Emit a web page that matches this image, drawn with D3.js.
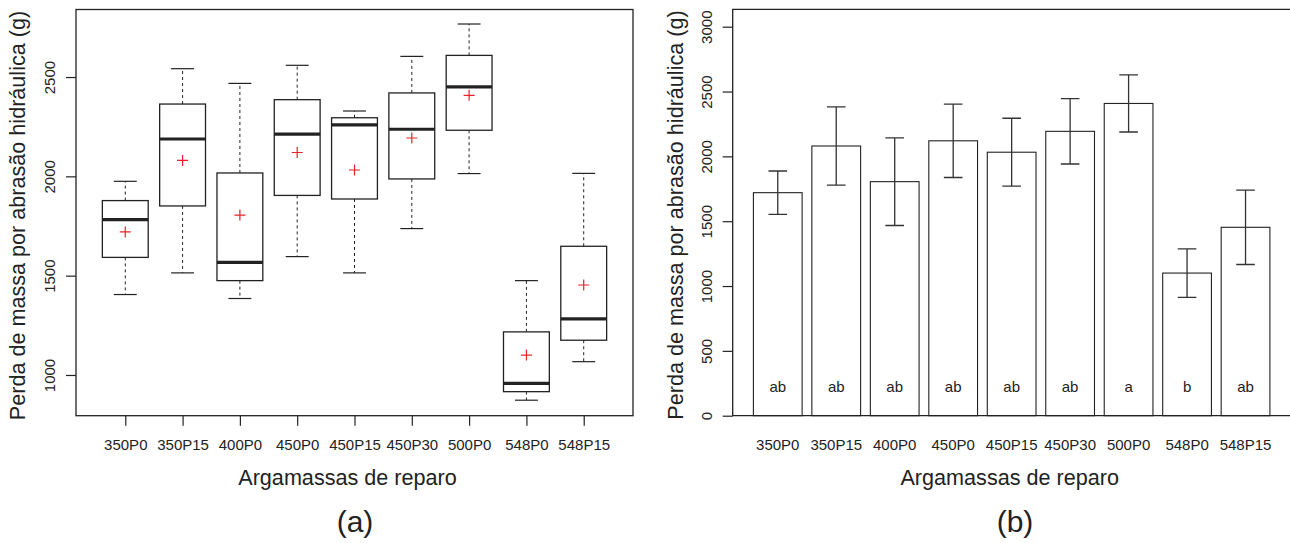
<!DOCTYPE html>
<html>
<head>
<meta charset="utf-8">
<script src="https://cdn.jsdelivr.net/npm/d3@7"></script>
<style>
  body { margin: 0; background: #fff; }
  svg { display: block; }
  text { font-family: "Liberation Sans", Arial, Helvetica, sans-serif; fill: #222; }
</style>
</head>
<body>
<svg id="chart" width="1290" height="543"></svg>
<script>
// Repair mortars and their hydraulic-abrasion mass loss (g)
const categories = ["350P0", "350P15", "400P0", "450P0", "450P15", "450P30", "500P0", "548P0", "548P15"];

// Box-plot summaries per mortar
const whiskerLow  = [1405, 1514, 1385, 1596, 1514, 1737, 2014,  873, 1067];
const quartile1   = [1592, 1851, 1475, 1904, 1886, 1987, 2232,  916, 1175];
const medians     = [1782, 2188, 1567, 2213, 2259, 2237, 2450,  958, 1282];
const quartile3   = [1878, 2364, 2017, 2386, 2295, 2420, 2609, 1217, 1648];
const whiskerHigh = [1975, 2542, 2468, 2559, 2329, 2604, 2767, 1475, 2015];

// Means and standard deviations (bar chart), with Tukey grouping letters
const means   = [1720, 2080, 1805, 2120, 2032, 2193, 2408, 1100, 1453];
const stdDevs = [ 167,  302,  338,  283,  262,  252,  220,  187,  287];
const groupLetters = ["ab", "ab", "ab", "ab", "ab", "ab", "a", "b", "ab"];

const boxTicks = [1000, 1500, 2000, 2500];
const barTicks = [0, 500, 1000, 1500, 2000, 2500, 3000];

const yTitle = "Perda de massa por abrasão hidráulica (g)";
const xTitle = "Argamassas de reparo";
const panelTags = ["(a)", "(b)"];

const svg = d3.select("#chart");
const ink = "#222";

// ---------- Panel (a): box plots ----------
const A = { left: 76, right: 633, top: 9.5, bottom: 415.7 };
const xA = d3.scaleLinear().domain([0.14, categories.length + 0.86]).range([A.left, A.right]);
const yA = d3.scaleLinear().domain([795, 2840]).range([A.bottom, A.top]);
const gA = svg.append("g");

const boxes = gA.selectAll("g.box").data(categories).join("g").attr("class", "box");
const half = (xA(1.4) - xA(1)) ;      // half box width (0.4 units)
const capHalf = (xA(1.2) - xA(1));    // half staple width

boxes.each(function (c, i) {
  const g = d3.select(this);
  const cx = xA(i + 1);
  // whiskers (dashed)
  g.append("line").attr("x1", cx).attr("x2", cx)
    .attr("y1", yA(quartile3[i])).attr("y2", yA(whiskerHigh[i]))
    .attr("stroke", ink).attr("stroke-width", 1).attr("stroke-dasharray", "3,3");
  g.append("line").attr("x1", cx).attr("x2", cx)
    .attr("y1", yA(quartile1[i])).attr("y2", yA(whiskerLow[i]))
    .attr("stroke", ink).attr("stroke-width", 1).attr("stroke-dasharray", "3,3");
  // staples
  [whiskerHigh[i], whiskerLow[i]].forEach(v => {
    g.append("line").attr("x1", cx - capHalf).attr("x2", cx + capHalf)
      .attr("y1", yA(v)).attr("y2", yA(v))
      .attr("stroke", ink).attr("stroke-width", 1.2);
  });
  // box
  g.append("rect").attr("x", cx - half).attr("width", 2 * half)
    .attr("y", yA(quartile3[i])).attr("height", yA(quartile1[i]) - yA(quartile3[i]))
    .attr("fill", "#fff").attr("stroke", ink).attr("stroke-width", 1.3);
  // median
  g.append("line").attr("x1", cx - half).attr("x2", cx + half)
    .attr("y1", yA(medians[i])).attr("y2", yA(medians[i]))
    .attr("stroke", ink).attr("stroke-width", 3.2);
  // mean marker
  const my = yA(means[i]);
  g.append("path").attr("d", `M${cx - 5.5},${my}H${cx + 5.5}M${cx},${my - 5.5}V${my + 5.5}`)
    .attr("stroke", "#e8232b").attr("stroke-width", 1.2).attr("fill", "none");
});

gA.append("rect").attr("x", A.left).attr("y", A.top)
  .attr("width", A.right - A.left).attr("height", A.bottom - A.top)
  .attr("fill", "none").attr("stroke", ink).attr("stroke-width", 1.3);

// y axis (a)
const axA = gA.append("g").attr("transform", `translate(${A.left},0)`)
  .call(d3.axisLeft(yA).tickValues(boxTicks).tickSize(10).tickFormat(d3.format("d")));
axA.select(".domain").remove();
axA.selectAll(".tick line").attr("stroke", ink).attr("stroke-width", 1.2);
axA.selectAll(".tick text").attr("x", null).attr("dy", null)
  .attr("transform", "translate(-21,0) rotate(-90)")
  .attr("text-anchor", "middle").style("font-size", "15px").attr("fill", ink);

// x axis (a)
const xIndex = d3.scalePoint().domain(categories).range([xA(1), xA(categories.length)]);
const axAx = gA.append("g").attr("transform", `translate(0,${A.bottom})`)
  .call(d3.axisBottom(xIndex).tickSize(10));
axAx.select(".domain").remove();
axAx.selectAll(".tick line").attr("stroke", ink).attr("stroke-width", 1.2);
axAx.selectAll(".tick text").attr("y", 34.3).attr("dy", null)
  .style("font-size", "15px").attr("fill", ink);

gA.append("text").attr("transform", "translate(25,215.5) rotate(-90)")
  .attr("text-anchor", "middle").style("font-size", "21.6px").text(yTitle);
gA.append("text").attr("x", 347.5).attr("y", 485)
  .attr("text-anchor", "middle").style("font-size", "21.6px").text(xTitle);
gA.append("text").attr("x", 355).attr("y", 532)
  .attr("text-anchor", "middle").style("font-size", "30px").text(panelTags[0]);

// ---------- Panel (b): mean bars with SD ----------
const B = { left: 732.7, right: 1290, top: 9.3, bottom: 415.7 };
const xB = d3.scaleBand().domain(categories).range([753.4, 1269.9]).paddingInner(1 / 6).paddingOuter(0);
const yB = d3.scaleLinear().domain([0, 3000]).range([B.bottom, 26.7]);
const gB = svg.append("g");

gB.selectAll("rect.bar").data(categories).join("rect").attr("class", "bar")
  .attr("x", c => xB(c)).attr("width", xB.bandwidth())
  .attr("y", (c, i) => yB(means[i])).attr("height", (c, i) => yB(0) - yB(means[i]))
  .attr("fill", "#fff").attr("stroke", ink).attr("stroke-width", 1.1);

const errs = gB.selectAll("g.err").data(categories).join("g").attr("class", "err");
errs.each(function (c, i) {
  const g = d3.select(this);
  const cx = xB(c) + xB.bandwidth() / 2;
  const lo = yB(means[i] - stdDevs[i]), hi = yB(means[i] + stdDevs[i]);
  g.append("path").attr("d", `M${cx},${lo}V${hi}M${cx - 9.3},${lo}H${cx + 9.3}M${cx - 9.3},${hi}H${cx + 9.3}`)
    .attr("stroke", "#333").attr("stroke-width", 1.3).attr("fill", "none");
});

gB.selectAll("text.letter").data(categories).join("text").attr("class", "letter")
  .attr("x", c => xB(c) + xB.bandwidth() / 2).attr("y", 391.7)
  .attr("text-anchor", "middle").style("font-size", "15px")
  .text((c, i) => groupLetters[i]);

gB.append("path").attr("d", `M${B.right},${B.top}H${B.left}V${B.bottom}H${B.right}`)
  .attr("fill", "none").attr("stroke", ink).attr("stroke-width", 1.3);

const axB = gB.append("g").attr("transform", `translate(${B.left},0)`)
  .call(d3.axisLeft(yB).tickValues(barTicks).tickSize(10).tickFormat(d3.format("d")));
axB.select(".domain").remove();
axB.selectAll(".tick line").attr("stroke", ink).attr("stroke-width", 1.2);
axB.selectAll(".tick text").attr("x", null).attr("dy", null)
  .attr("transform", "translate(-21,0) rotate(-90)")
  .attr("text-anchor", "middle").style("font-size", "15px").attr("fill", ink);

const axBx = gB.append("g").attr("transform", `translate(0,${B.bottom})`)
  .call(d3.axisBottom(xB).tickSize(0));
axBx.select(".domain").remove();
axBx.selectAll(".tick text").attr("y", 34.3).attr("dy", null)
  .style("font-size", "15px").attr("fill", ink);

gB.append("text").attr("transform", "translate(682.7,215) rotate(-90)")
  .attr("text-anchor", "middle").style("font-size", "21.6px").text(yTitle);
gB.append("text").attr("x", 1009.7).attr("y", 485)
  .attr("text-anchor", "middle").style("font-size", "21.6px").text(xTitle);
gB.append("text").attr("x", 1015).attr("y", 532)
  .attr("text-anchor", "middle").style("font-size", "30px").text(panelTags[1]);
</script>
</body>
</html>
